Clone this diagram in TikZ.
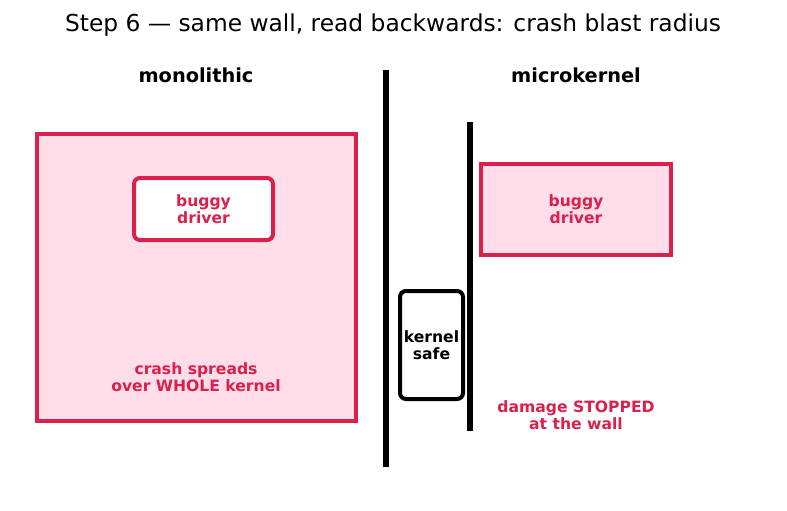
\documentclass[tikz,border=0pt]{standalone}
\usepackage{fontspec}
\setmainfont{DejaVu Sans}
\usetikzlibrary{positioning}

\definecolor{crashred}{RGB}{218,32,76}
\definecolor{crashpink}{RGB}{255,221,233}

\begin{document}
\begin{tikzpicture}[x=0.75pt, y=-0.75pt,
  box/.style = {draw=crashred, line width=3pt, fill=crashpink, inner sep=0pt},
  driver/.style = {draw=crashred, line width=3pt, inner sep=0pt, align=center,
    text=crashred, font=\fontsize{11.7}{13}\selectfont\bfseries},
  note/.style = {align=center, text=crashred, font=\fontsize{11.7}{13}\selectfont\bfseries},
  head/.style = {font=\fontsize{14.5}{17}\selectfont\bfseries},
  wall/.style = {line width=3.9pt}]
\useasboundingbox (0,0) rectangle (787,510);

% title and column heads
\node (title) at (393,25) {\fontsize{17.5}{20}\selectfont Step 6 — same wall, read backwards: crash blast radius};
\node[head] (mono) at (196,75) {monolithic};
\node[head] (micro) at (576,75) {microkernel};

% monolithic: the whole kernel goes down
\node[box, minimum width=239.25pt, minimum height=215.25pt] (kern) at (196.5,277.5) {};
\node[driver, fill=white, rounded corners=4.5pt, minimum width=104.25pt, minimum height=46.5pt] (bug1) at (203.5,209) {buggy\\driver};
\node[note] (spread) at (196,377) {crash spreads\\over WHOLE kernel};

% the two walls
\coordinate (w1top) at (386,70);
\coordinate (w1bot) at (386,467);
\coordinate (w2top) at (470,122);
\coordinate (w2bot) at (470,431);
\draw[wall] (w1top) -- (w1bot);
\draw[wall, line width=4.6pt] (w2top) -- (w2bot);

% microkernel: crash stays outside
\node[driver, fill=crashpink, minimum width=142.5pt, minimum height=68.25pt] (bug2) at (576,209.5) {buggy\\driver};
\node[draw, line width=3pt, fill=white, rounded corners=4.5pt, inner sep=0pt, align=center,
  minimum width=47.25pt, minimum height=81pt, font=\fontsize{11.7}{13}\selectfont\bfseries] (safe) at (431.5,345) {kernel\\safe};
\node[note] (stop) at (576,415) {damage STOPPED\\at the wall};
\end{tikzpicture}
\end{document}
